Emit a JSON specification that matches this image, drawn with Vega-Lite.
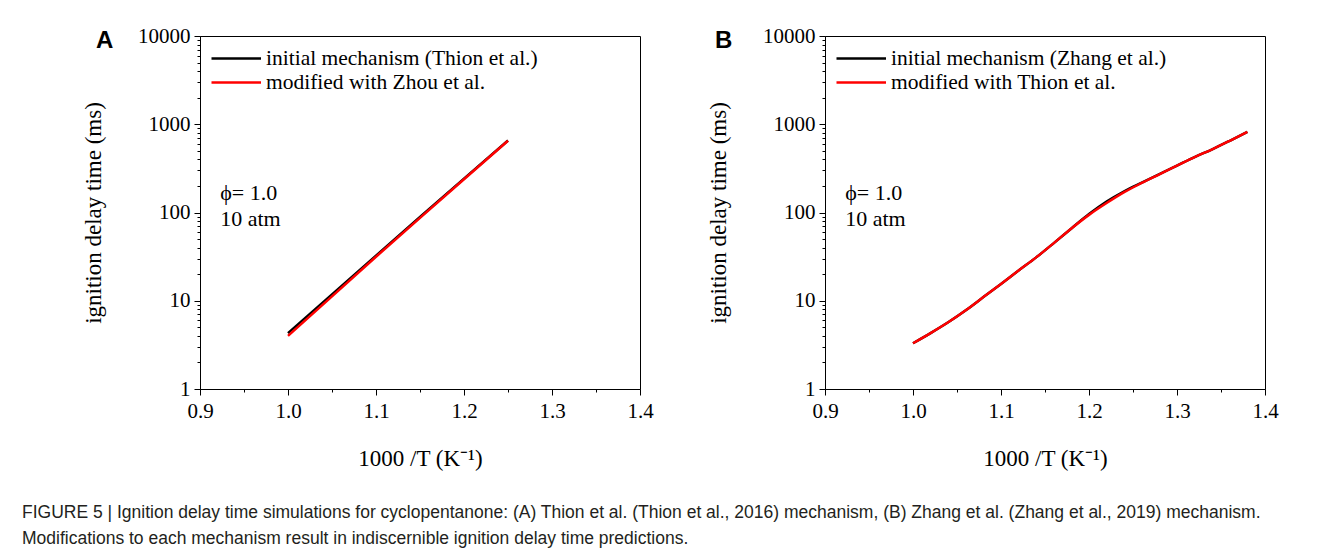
{
  "$schema": "https://vega.github.io/schema/vega-lite/v6.json",
  "background": "white",
  "padding": {"left": 22, "top": 24, "right": 10, "bottom": 5},
  "datasets": {
    "a": [
      {"series": "initial mechanism (Thion et al.)", "x": 1.0, "y": 4.3},
      {"series": "initial mechanism (Thion et al.)", "x": 1.05, "y": 11.8},
      {"series": "initial mechanism (Thion et al.)", "x": 1.1, "y": 32.5},
      {"series": "initial mechanism (Thion et al.)", "x": 1.15, "y": 89},
      {"series": "initial mechanism (Thion et al.)", "x": 1.2, "y": 242},
      {"series": "initial mechanism (Thion et al.)", "x": 1.25, "y": 655},
      {"series": "modified with Zhou et al.", "x": 1.0, "y": 4.0},
      {"series": "modified with Zhou et al.", "x": 1.05, "y": 11.2},
      {"series": "modified with Zhou et al.", "x": 1.1, "y": 31.5},
      {"series": "modified with Zhou et al.", "x": 1.15, "y": 87},
      {"series": "modified with Zhou et al.", "x": 1.2, "y": 238},
      {"series": "modified with Zhou et al.", "x": 1.25, "y": 650}
    ],
    "b": [
      {"series": "initial mechanism (Zhang et al.)", "x": 1.0, "y": 3.3},
      {"series": "initial mechanism (Zhang et al.)", "x": 1.02, "y": 4.3},
      {"series": "initial mechanism (Zhang et al.)", "x": 1.04, "y": 5.7},
      {"series": "initial mechanism (Zhang et al.)", "x": 1.06, "y": 7.8},
      {"series": "initial mechanism (Zhang et al.)", "x": 1.08, "y": 11},
      {"series": "initial mechanism (Zhang et al.)", "x": 1.1, "y": 15.5},
      {"series": "initial mechanism (Zhang et al.)", "x": 1.12, "y": 22},
      {"series": "initial mechanism (Zhang et al.)", "x": 1.14, "y": 31},
      {"series": "initial mechanism (Zhang et al.)", "x": 1.16, "y": 45},
      {"series": "initial mechanism (Zhang et al.)", "x": 1.18, "y": 66},
      {"series": "initial mechanism (Zhang et al.)", "x": 1.2, "y": 96},
      {"series": "initial mechanism (Zhang et al.)", "x": 1.22, "y": 133},
      {"series": "initial mechanism (Zhang et al.)", "x": 1.24, "y": 174},
      {"series": "initial mechanism (Zhang et al.)", "x": 1.26, "y": 218},
      {"series": "initial mechanism (Zhang et al.)", "x": 1.28, "y": 272},
      {"series": "initial mechanism (Zhang et al.)", "x": 1.3, "y": 340},
      {"series": "initial mechanism (Zhang et al.)", "x": 1.32, "y": 425},
      {"series": "initial mechanism (Zhang et al.)", "x": 1.34, "y": 520},
      {"series": "initial mechanism (Zhang et al.)", "x": 1.36, "y": 650},
      {"series": "initial mechanism (Zhang et al.)", "x": 1.38, "y": 820},
      {"series": "modified with Thion et al.", "x": 1.0, "y": 3.3},
      {"series": "modified with Thion et al.", "x": 1.02, "y": 4.3},
      {"series": "modified with Thion et al.", "x": 1.04, "y": 5.7},
      {"series": "modified with Thion et al.", "x": 1.06, "y": 7.8},
      {"series": "modified with Thion et al.", "x": 1.08, "y": 11},
      {"series": "modified with Thion et al.", "x": 1.1, "y": 15.5},
      {"series": "modified with Thion et al.", "x": 1.12, "y": 22},
      {"series": "modified with Thion et al.", "x": 1.14, "y": 31},
      {"series": "modified with Thion et al.", "x": 1.16, "y": 45},
      {"series": "modified with Thion et al.", "x": 1.18, "y": 66},
      {"series": "modified with Thion et al.", "x": 1.2, "y": 94},
      {"series": "modified with Thion et al.", "x": 1.22, "y": 128},
      {"series": "modified with Thion et al.", "x": 1.24, "y": 170},
      {"series": "modified with Thion et al.", "x": 1.26, "y": 216},
      {"series": "modified with Thion et al.", "x": 1.28, "y": 271},
      {"series": "modified with Thion et al.", "x": 1.3, "y": 340},
      {"series": "modified with Thion et al.", "x": 1.32, "y": 425},
      {"series": "modified with Thion et al.", "x": 1.34, "y": 520},
      {"series": "modified with Thion et al.", "x": 1.36, "y": 650},
      {"series": "modified with Thion et al.", "x": 1.38, "y": 820}
    ],
    "notes": [
      {"x": 0.923, "y": 166, "t": "ϕ= 1.0"},
      {"x": 0.923, "y": 84, "t": "10 atm"}
    ]
  },
  "title": {
    "text": [
      "FIGURE 5 | Ignition delay time simulations for cyclopentanone: (A) Thion et al. (Thion et al., 2016) mechanism, (B) Zhang et al. (Zhang et al., 2019) mechanism.",
      "Modifications to each mechanism result in indiscernible ignition delay time predictions."
    ],
    "orient": "bottom",
    "anchor": "start",
    "font": "Liberation Sans",
    "fontSize": 17.5,
    "fontWeight": "normal",
    "color": "#231f20",
    "lineHeight": 26,
    "offset": 33,
    "dx": -60
  },
  "resolve": {"scale": {"color": "independent"}, "legend": {"color": "independent"}},
  "spacing": 53,
  "hconcat": [
    {
      "width": 440,
      "height": 353,
      "title": {"text": "A", "anchor": "start", "frame": "group", "font": "Liberation Sans", "fontWeight": "bold", "fontSize": 24, "color": "black", "dx": -104, "offset": -28},
      "layer": [
        {
          "data": {"name": "a"},
          "mark": {"type": "line", "strokeWidth": 2.5},
          "encoding": {
            "x": {"field": "x", "type": "quantitative", "scale": {"domain": [0.9, 1.4], "nice": false, "zero": false}, "axis": {"title": "1000 /T (K⁻¹)", "values": [0.9, 0.95, 1.0, 1.05, 1.1, 1.15, 1.2, 1.25, 1.3, 1.35, 1.4], "labelExpr": "abs(datum.value*10-round(datum.value*10))<1e-6 ? format(datum.value,'.1f') : ''", "tickSize": {"condition": {"test": "abs(datum.value*10-round(datum.value*10))<1e-6", "value": 6}, "value": 3}}},
            "y": {"field": "y", "type": "quantitative", "scale": {"type": "log", "domain": [1, 10000], "nice": false}, "axis": {"title": "ignition delay time (ms)", "values": [1,2,3,4,5,6,7,8,9,10,20,30,40,50,60,70,80,90,100,200,300,400,500,600,700,800,900,1000,2000,3000,4000,5000,6000,7000,8000,9000,10000], "labelExpr": "indexof([1,10,100,1000,10000], datum.value) >= 0 ? format(datum.value,'d') : ''", "tickSize": {"condition": {"test": "indexof([1,10,100,1000,10000], datum.value) >= 0", "value": 6}, "value": 3}}},
            "color": {"field": "series", "type": "nominal", "scale": {"domain": ["initial mechanism (Thion et al.)", "modified with Zhou et al."], "range": ["#000000", "#ff0000"]}, "legend": {"title": null, "orient": "top-left", "offset": 5, "padding": 5, "symbolType": "M-1,0H3.5", "symbolSize": 484, "symbolStrokeWidth": 2.5, "labelFont": "Liberation Serif", "labelFontSize": 21.5, "labelColor": "black", "labelOffset": 31, "rowPadding": 1, "labelLimit": 400}}
          }
        },
        {
          "data": {"name": "notes"},
          "mark": {"type": "text", "align": "left", "baseline": "middle", "font": "Liberation Serif", "fontSize": 22, "color": "black"},
          "encoding": {
            "x": {"field": "x", "type": "quantitative"},
            "y": {"field": "y", "type": "quantitative"},
            "text": {"field": "t"}
          }
        }
      ]
    },
    {
      "width": 440,
      "height": 353,
      "title": {"text": "B", "anchor": "start", "frame": "group", "font": "Liberation Sans", "fontWeight": "bold", "fontSize": 24, "color": "black", "dx": -110, "offset": -28},
      "layer": [
        {
          "data": {"name": "b"},
          "mark": {"type": "line", "strokeWidth": 2.5, "interpolate": "monotone"},
          "encoding": {
            "x": {"field": "x", "type": "quantitative", "scale": {"domain": [0.9, 1.4], "nice": false, "zero": false}, "axis": {"title": "1000 /T (K⁻¹)", "values": [0.9, 0.95, 1.0, 1.05, 1.1, 1.15, 1.2, 1.25, 1.3, 1.35, 1.4], "labelExpr": "abs(datum.value*10-round(datum.value*10))<1e-6 ? format(datum.value,'.1f') : ''", "tickSize": {"condition": {"test": "abs(datum.value*10-round(datum.value*10))<1e-6", "value": 6}, "value": 3}}},
            "y": {"field": "y", "type": "quantitative", "scale": {"type": "log", "domain": [1, 10000], "nice": false}, "axis": {"title": "ignition delay time (ms)", "values": [1,2,3,4,5,6,7,8,9,10,20,30,40,50,60,70,80,90,100,200,300,400,500,600,700,800,900,1000,2000,3000,4000,5000,6000,7000,8000,9000,10000], "labelExpr": "indexof([1,10,100,1000,10000], datum.value) >= 0 ? format(datum.value,'d') : ''", "tickSize": {"condition": {"test": "indexof([1,10,100,1000,10000], datum.value) >= 0", "value": 6}, "value": 3}}},
            "color": {"field": "series", "type": "nominal", "scale": {"domain": ["initial mechanism (Zhang et al.)", "modified with Thion et al."], "range": ["#000000", "#ff0000"]}, "legend": {"title": null, "orient": "top-left", "offset": 5, "padding": 5, "symbolType": "M-1,0H3.5", "symbolSize": 484, "symbolStrokeWidth": 2.5, "labelFont": "Liberation Serif", "labelFontSize": 21.5, "labelColor": "black", "labelOffset": 31, "rowPadding": 1, "labelLimit": 400}}
          }
        },
        {
          "data": {"name": "notes"},
          "mark": {"type": "text", "align": "left", "baseline": "middle", "font": "Liberation Serif", "fontSize": 22, "color": "black"},
          "encoding": {
            "x": {"field": "x", "type": "quantitative"},
            "y": {"field": "y", "type": "quantitative"},
            "text": {"field": "t"}
          }
        }
      ]
    }
  ],
  "config": {
    "view": {"stroke": "black", "strokeWidth": 1},
    "axis": {
      "grid": false,
      "domainColor": "black",
      "tickColor": "black",
      "labelFont": "Liberation Serif",
      "labelFontSize": 21,
      "labelColor": "black",
      "titleFont": "Liberation Serif",
      "titleFontSize": 23,
      "titleFontWeight": "normal",
      "titleColor": "black",
      "labelFlush": false,
      "labelOverlap": false
    },
    "axisX": {"labelPadding": 5, "titlePadding": 26},
    "axisY": {"labelPadding": 4, "titlePadding": 32}
  }
}
